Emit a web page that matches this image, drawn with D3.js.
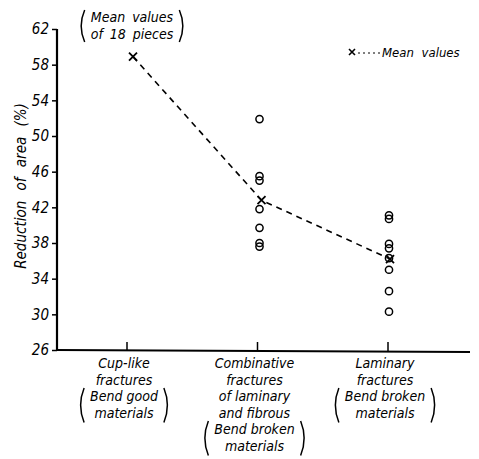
<!DOCTYPE html>
<html><head><meta charset="utf-8">
<script src="https://cdn.jsdelivr.net/npm/d3@7"></script>
<style>
body{margin:0;background:#fff;}
text{font-family:"DejaVu Sans Condensed","DejaVu Sans",sans-serif;font-style:italic;fill:#000;}
</style></head>
<body><svg id="c" width="479" height="459"></svg>
<script>
const categories = ["cup", "comb", "lam"];
const categoryLabels = [
  ["Cup-like", "fractures", "Bend good", "materials"],
  ["Combinative", "fractures", "of laminary", "and fibrous", "Bend broken", "materials"],
  ["Laminary", "fractures", "Bend broken", "materials"]
];
const meanValues = [58.9, 42.8, 36.2];
const combValues = [51.9, 45.5, 45.0, 41.8, 39.7, 38.0, 37.6];
const lamValues = [41.1, 40.7, 37.9, 37.4, 36.3, 35.0, 32.6, 30.3];
const yTicks = [26, 30, 34, 38, 42, 46, 50, 54, 58, 62];

const svg = d3.select("#c");
const y = d3.scaleLinear().domain([26, 62]).range([350, 29]);
const x = d3.scalePoint().domain(categories).range([127, 388]);
const x0 = 57;

// y axis
const ya = svg.append("g").attr("transform", `translate(${x0},0)`)
  .call(d3.axisLeft(y).tickValues(yTicks).tickSize(5).tickPadding(3));
ya.select(".domain").attr("stroke-width", 2.2).attr("d", `M0,${y(62)}V${y(26)+1}`);
ya.selectAll(".tick line").attr("stroke-width", 1.5);
ya.selectAll(".tick text").attr("font-size", 15).style("font-style", "italic")
  .style("font-family", '"DejaVu Sans Condensed","DejaVu Sans",sans-serif');

// x axis
const xa = svg.append("g").attr("transform", `translate(0,${y(26)})`);
xa.append("line").attr("x1", x0 - 1).attr("x2", 470).attr("y1", 0).attr("y2", 2)
  .attr("stroke", "#000").attr("stroke-width", 2.2);
xa.selectAll("line.t").data(categories).join("line").attr("class", "t")
  .attr("x1", d => x(d)).attr("x2", d => x(d))
  .attr("y1", (d, i) => i * 1).attr("y2", -8).attr("stroke", "#000").attr("stroke-width", 1.5);

// x labels
const lineH = 16.5;
const paren = (g, x1, x2, top, bot) => {
  const mk = (xx, dir) => `M${xx},${top} Q${xx - dir * 7},${(top + bot) / 2} ${xx},${bot}`;
  g.append("path").attr("d", mk(x1, 1)).attr("fill", "none").attr("stroke", "#000").attr("stroke-width", 1.5);
  g.append("path").attr("d", mk(x2, -1)).attr("fill", "none").attr("stroke", "#000").attr("stroke-width", 1.5);
};
categoryLabels.forEach((lines, i) => {
  const cx = x(categories[i]) - 3;
  const g = svg.append("g");
  const plain = lines.length - 2;
  let maxW = 0;
  lines.forEach((t, j) => {
    const tx = g.append("text").attr("x", cx).attr("y", 368 + j * lineH)
      .attr("text-anchor", "middle").attr("font-size", 14).text(t);
    if (j >= plain) maxW = Math.max(maxW, tx.node().getComputedTextLength());
  });
  const top = 368 + plain * lineH - 13;
  const bot = 368 + (lines.length - 1) * lineH + 5;
  paren(g, cx - maxW / 2 - 6, cx + maxW / 2 + 6, top, bot);
});

// y label
svg.append("text").attr("transform", "translate(26,186) rotate(-90)")
  .attr("text-anchor", "middle").attr("font-size", 15).style("word-spacing", "6px")
  .text("Reduction of area (%)");

// annotation
const ag = svg.append("g");
const a1 = ag.append("text").attr("x", 132).attr("y", 22).attr("text-anchor", "middle").attr("font-size", 14).style("word-spacing", "3px").text("Mean values");
const a2 = ag.append("text").attr("x", 132).attr("y", 39).attr("text-anchor", "middle").attr("font-size", 14).style("word-spacing", "3px").text("of 18 pieces");
const aw = Math.max(a1.node().getComputedTextLength(), a2.node().getComputedTextLength());
paren(ag, 132 - aw / 2 - 6, 132 + aw / 2 + 6, 10, 42);

// dashed mean line
const meanPts = meanValues.map((v, i) => [x(categories[i]) + [6, 4, 2][i], y(v)]);
svg.append("path").attr("d", d3.line()(meanPts)).attr("fill", "none")
  .attr("stroke", "#000").attr("stroke-width", 1.6).attr("stroke-dasharray", "6,5");

// circles
const pts = [];
combValues.forEach(v => pts.push([x("comb") + 2, y(v)]));
lamValues.forEach(v => pts.push([x("lam") + 1, y(v)]));
svg.selectAll("circle").data(pts).join("circle")
  .attr("cx", d => d[0]).attr("cy", d => d[1]).attr("r", 3.6)
  .attr("fill", "none").attr("stroke", "#000").attr("stroke-width", 1.5);

// x markers
const cross = (cx, cy, s) => `M${cx - s},${cy - s}L${cx + s},${cy + s}M${cx - s},${cy + s}L${cx + s},${cy - s}`;
svg.selectAll("path.m").data(meanPts).join("path").attr("class", "m")
  .attr("d", d => cross(d[0], d[1], 4)).attr("stroke", "#000").attr("stroke-width", 1.8);

// legend
svg.append("path").attr("d", cross(352, 52, 3)).attr("stroke", "#000").attr("stroke-width", 1.6);
svg.append("line").attr("x1", 358).attr("x2", 380).attr("y1", 53).attr("y2", 53)
  .attr("stroke", "#000").attr("stroke-width", 1).attr("stroke-dasharray", "2,3");
svg.append("text").attr("x", 382).attr("y", 57).attr("font-size", 13).style("word-spacing", "4px").text("Mean values");
</script></body></html>
